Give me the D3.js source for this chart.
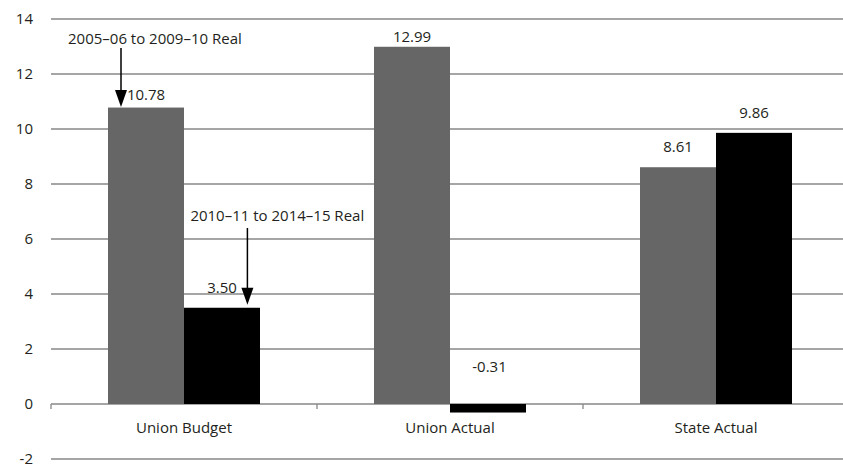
<!DOCTYPE html>
<html>
<head>
<meta charset="utf-8">
<script src="https://cdn.jsdelivr.net/npm/d3@7"></script>
<style>
  html, body { margin: 0; padding: 0; background: #fff; }
  svg { display: block; font-family: "Open Sans", sans-serif; }
</style>
</head>
<body>
<svg id="chart" width="843" height="466"></svg>
<script>
// ---- data ----
const categories = ["Union Budget", "Union Actual", "State Actual"];
const seriesNames = ["2005\u201306 to 2009\u201310 Real", "2010\u201311 to 2014\u201315 Real"];
const series1 = [10.78, 12.99, 8.61];
const series2 = [3.50, -0.31, 9.86];
const valueLabels1 = ["10.78", "12.99", "8.61"];
const valueLabels2 = ["3.50", "-0.31", "9.86"];
const yTicks = [-2, 0, 2, 4, 6, 8, 10, 12, 14];

// ---- layout ----
const svg = d3.select("#chart");
const W = 843, H = 466;
const plotLeft = 51, plotRight = 849, plotTop = 19, plotBottom = 459;
const colors = ["#666666", "#000000"];
const textColor = "#231f20";
const gridColor = "#878787";

const x0 = d3.scaleBand().domain(categories).range([plotLeft, plotRight]).paddingInner(0).paddingOuter(0);
const x1 = d3.scaleBand().domain([0, 1]).range([0, x0.bandwidth()]).paddingInner(0).paddingOuter(0.75);
const y = d3.scaleLinear().domain([-2, 14]).range([plotBottom, plotTop]);

// gridlines
svg.append("g").selectAll("line").data(yTicks).join("line")
  .attr("x1", plotLeft).attr("x2", plotRight)
  .attr("y1", d => y(d)).attr("y2", d => y(d))
  .attr("stroke", gridColor).attr("stroke-width", 1.3);

// y tick labels
svg.append("g").selectAll("text").data(yTicks).join("text")
  .attr("x", 33).attr("y", d => y(d)).attr("dy", "0.36em")
  .attr("text-anchor", "end").attr("font-size", 15).attr("fill", textColor)
  .text(d => d);

// category boundary ticks on zero line
const boundaries = categories.map(c => x0(c)).concat([x0(categories[categories.length - 1]) + x0.bandwidth()]);
svg.append("g").selectAll("line").data(boundaries).join("line")
  .attr("x1", d => d).attr("x2", d => d)
  .attr("y1", y(0)).attr("y2", y(0) + 5)
  .attr("stroke", gridColor).attr("stroke-width", 1.3);

// bars
const rows = categories.map((c, i) => ({ cat: c, vals: [series1[i], series2[i]], labels: [valueLabels1[i], valueLabels2[i]] }));
const barData = rows.flatMap(r => r.vals.map((v, s) => ({ cat: r.cat, s, v, label: r.labels[s] })));

svg.append("g").selectAll("rect").data(barData).join("rect")
  .attr("x", d => x0(d.cat) + x1(d.s))
  .attr("width", x1.bandwidth())
  .attr("y", d => y(Math.max(0, d.v)))
  .attr("height", d => Math.abs(y(d.v) - y(0)))
  .attr("fill", d => colors[d.s]);

// value labels (vertical gap above bar top in px, per label)
const labelGap = { "10.78": 7.5, "12.99": 5, "8.61": 15.5, "3.50": 14.7, "-0.31": 0, "9.86": 14.8 };
svg.append("g").selectAll("text").data(barData).join("text")
  .attr("x", d => x0(d.cat) + x1(d.s) + x1.bandwidth() / 2 + (d.v < 0 ? 1.5 : 0))
  .attr("y", d => d.v < 0 ? y(0) - 32.5 : y(d.v) - labelGap[d.label])
  .attr("text-anchor", "middle").attr("font-size", 15).attr("fill", textColor)
  .text(d => d.label);

// category labels
svg.append("g").selectAll("text").data(categories).join("text")
  .attr("x", d => x0(d) + x0.bandwidth() / 2)
  .attr("y", 433)
  .attr("text-anchor", "middle").attr("font-size", 15).attr("fill", textColor)
  .text(d => d);

// annotations (series name with arrow pointing at first category bar)
const annotations = [
  { s: 0, text: seriesNames[0], arrowDx: 13, textDx: -53, textY: 44, lineY: 48 },
  { s: 1, text: seriesNames[1], arrowDx: 63.4, textDx: -57, textY: 220.5, lineY: 228 }
];
const ann = svg.append("g");
annotations.forEach(a => {
  const cat = categories[0];
  const val = a.s === 0 ? series1[0] : series2[0];
  const ax = x0(cat) + x1(a.s) + a.arrowDx;
  const tipY = y(val) - (a.s === 0 ? 0.5 : 3);
  const headH = 17, headW = 12;
  ann.append("text")
    .attr("x", ax + a.textDx).attr("y", a.textY)
    .attr("font-size", 15).attr("fill", textColor)
    .text(a.text);
  ann.append("line")
    .attr("x1", ax).attr("x2", ax)
    .attr("y1", a.lineY).attr("y2", tipY - headH + 2)
    .attr("stroke", "#000").attr("stroke-width", 1.5);
  ann.append("path")
    .attr("d", `M${ax - headW / 2},${tipY - headH} L${ax + headW / 2},${tipY - headH} L${ax},${tipY} Z`)
    .attr("fill", "#000");
});
</script>
</body>
</html>
